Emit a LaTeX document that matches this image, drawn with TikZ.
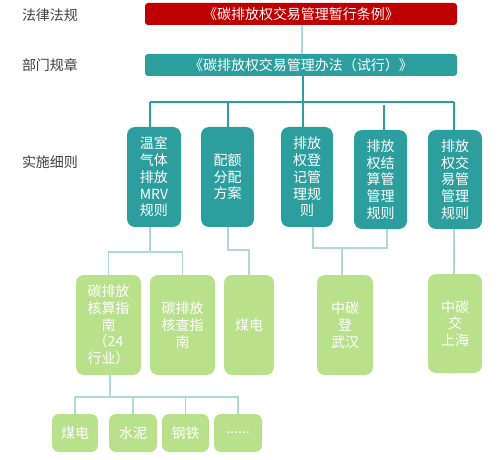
\documentclass[tikz,border=0pt]{standalone}
\usepackage{fontspec}
\newfontfamily\cjk{Noto Sans CJK SC}
\usetikzlibrary{calc}
\definecolor{redbox}{HTML}{C00000}
\definecolor{tealbox}{HTML}{2C9E9E}
\definecolor{greenbox}{HTML}{B9E18B}
\definecolor{lightline}{HTML}{ADD8DD}
\definecolor{labelgray}{HTML}{404040}
\tikzset{
  boxtext/.style={text=white, font=\cjk\fontsize{14}{16.7}\selectfont, align=center, inner sep=0pt},
  lawbox/.style={boxtext, rounded corners=3pt, minimum width=312pt, minimum height=22pt},
  rulebox/.style={boxtext, fill=tealbox, rounded corners=8pt, minimum height=100pt},
  guidebox/.style={boxtext, fill=greenbox, rounded corners=8pt, minimum height=100pt},
  smallbox/.style={boxtext, fill=greenbox, rounded corners=7pt, minimum height=38pt},
  sidelabel/.style={text=labelgray, font=\cjk\fontsize{14}{16}\selectfont, inner sep=0pt},
  tline/.style={draw=tealbox, line width=1.3pt},
  lline/.style={draw=lightline, line width=1.2pt}
}
\begin{document}
\begin{tikzpicture}[x=1pt, y=-1pt]
\useasboundingbox (0,0) rectangle (499,460);
% side labels
\node[sidelabel] (lbl1) at (50,15) {法律法规};
\node[sidelabel] (lbl2) at (50,65) {部门规章};
\node[sidelabel] (lbl3) at (50,162) {实施细则};
% law boxes
\node[lawbox, fill=redbox] (law1) at (301,14) {《碳排放权交易管理暂行条例》};
\node[lawbox, fill=tealbox] (law2) at (301,65) {《碳排放权交易管理办法（试行）》};
% rule boxes
\node[rulebox, minimum width=54pt] (r1) at (154,177) {温室\\气体\\排放\\MRV\\规则};
\node[rulebox, minimum width=53pt] (r2) at (227.5,177) {配额\\分配\\方案};
\node[rulebox, minimum width=52pt] (r3) at (307,177) {排放\\权登\\记管\\理规\\则};
\node[rulebox, minimum width=53pt, minimum height=99pt] (r4) at (380.5,179.5) {排放\\权结\\算管\\管理\\规则};
\node[rulebox, minimum width=54pt, minimum height=99pt] (r5) at (455,179.5) {排放\\权交\\易管\\管理\\规则};
% guide boxes
\node[guidebox, minimum width=65pt] (g1) at (108.5,325) {碳排放\\核算指\\南\\（24\\行业）};
\node[guidebox, minimum width=65pt] (g2) at (182.5,325) {碳排放\\核查指\\南};
\node[guidebox, minimum width=50pt] (g3) at (249,325) {煤电};
\node[guidebox, minimum width=56pt] (g4) at (345,325) {中碳\\登\\武汉};
\node[guidebox, minimum width=54pt, minimum height=99pt] (g5) at (455,323.5) {中碳\\交\\上海};
% sector boxes
\node[smallbox, minimum width=46pt] (s1) at (75,433) {煤电};
\node[smallbox, minimum width=48pt] (s2) at (133,433) {水泥};
\node[smallbox, minimum width=47pt] (s3) at (185.5,433) {钢铁};
\node[smallbox, minimum width=48pt] (s4) at (238,433) {......};
% connectors: law level
\draw[lline] ($(law1.south)+(1,0)$) -- ($(law2.north)+(1,0)$);
% teal bus
\coordinate (hub) at (303,102);
\coordinate (busA) at (150,102);
\coordinate (busB) at (228,102);
\coordinate (busD) at (384,102);
\coordinate (busE) at (454,102);
\draw[tline] (hub |- law2.south) -- (hub);
\draw[tline] (busA) -- (busE);
\draw[tline] (busA) -- (busA |- r1.north);
\draw[tline] (busB) -- (busB |- r2.north);
\draw[tline] (hub) -- (hub |- r3.north);
\draw[tline] ($(busD)+(0,3)$) -- (busD |- r4.north);
\draw[tline] (busE) -- (busE |- r5.north);
% light connectors: r1 -> g1, g2
\coordinate (j1) at (150,252);
\draw[lline] (j1 |- r1.south) -- (j1);
\draw[lline] (g1.north) |- (j1) -| (g2.north);
% r2 -> g3
\coordinate (j2) at (228,250);
\draw[lline] (j2 |- r2.south) -- (j2) -| (g3.north);
% r3, r4 -> g4
\coordinate (j3) at (313,248);
\coordinate (j4) at (387,248);
\coordinate (j5) at (342,248);
\draw[lline] (j3 |- r3.south) -- (j3) -- (j4) -- (j4 |- r4.south);
\draw[lline] (j5) -- (j5 |- g4.north);
% r5 -> g5
\draw[lline] (r5.south -| busE) -- (g5.north -| busE);
% g1 -> sectors
\coordinate (k0) at (110,397);
\draw[lline] (k0 |- g1.south) -- (k0);
\draw[lline] (s1.north) |- (k0) -| (s4.north);
\draw[lline] (s2.north |- k0) -- (s2.north);
\draw[lline] (s3.north |- k0) -- (s3.north);
\end{tikzpicture}
\end{document}
